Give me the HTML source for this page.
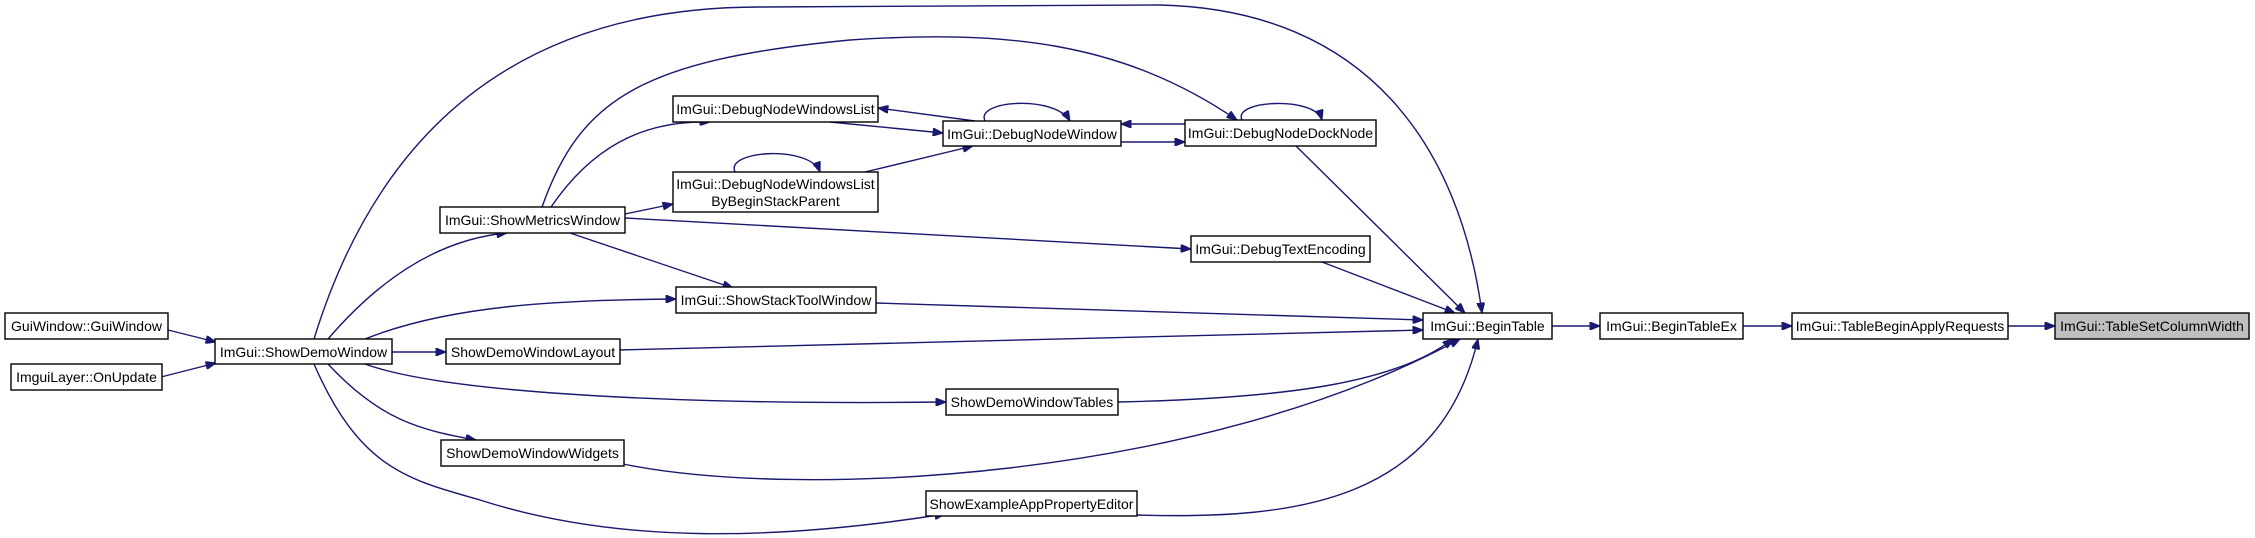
<!DOCTYPE html>
<html><head><meta charset="utf-8"><style>
html,body{margin:0;padding:0;background:#fff;}
svg{display:block;}
text{font-family:"Liberation Sans",sans-serif;font-size:14px;fill:#000;}
.e{fill:none;stroke:#191970;stroke-width:1.4;}
.n{fill:#fff;stroke:#000;stroke-width:1.4;}
</style></head><body>
<svg width="2255" height="538" viewBox="0 0 2255 538" xmlns="http://www.w3.org/2000/svg">
<defs><marker id="a" viewBox="0 0 10 8" refX="10" refY="4" markerWidth="11" markerHeight="8" markerUnits="userSpaceOnUse" orient="auto"><path d="M0,0L10,4L0,8z" fill="#191970" stroke="#191970"/></marker></defs>
<g class="e" marker-end="url(#a)">
<path d="M168,330L216,342"/>
<path d="M161,377L216,363"/>
<path d="M328,339C370,290 430,240 507,233"/>
<path d="M314,339C400,60 600,7 760,7L1160,5C1370,10 1460,150 1482,313"/>
<path d="M365,339C450,305 560,300 676,299"/>
<path d="M391,352L446,352"/>
<path d="M365,364C450,395 700,405 946,402"/>
<path d="M328,364C380,420 420,430 476,440"/>
<path d="M314,364C360,470 410,480 480,500C620,545 780,540 945,514"/>
<path d="M551,207C590,150 640,120 710,122"/>
<path d="M625,214L673,204"/>
<path d="M625,218L1191,249"/>
<path d="M570,233L733,288"/>
<path d="M542,207C580,100 640,60 850,40C1000,30 1120,40 1237,120"/>
<path d="M830,122L943,133"/>
<path d="M975,121L878,108"/>
<path d="M865,172L973,146"/>
<path d="M1121,142L1185,142"/>
<path d="M1185,124L1121,124"/>
<path d="M1296,146L1465,313"/>
<path d="M1322,262L1455,313"/>
<path d="M876,303L1423,320"/>
<path d="M618,350L1423,330"/>
<path d="M1118,402C1300,398 1400,380 1453,339"/>
<path d="M623,464C800,500 1200,480 1460,339"/>
<path d="M1137,515C1300,520 1440,500 1478,339"/>
<path d="M1552,326L1600,326"/>
<path d="M1743,326L1792,326"/>
<path d="M2008,326L2055,326"/>
<path d="M985,121C975,100 1055,95 1070,121"/>
<path d="M735,172C725,150 810,145 820,172"/>
<path d="M1242,120C1232,100 1315,96 1322,120"/>
</g>
<rect class="n" x="5" y="313" width="163" height="26"/><text x="86.5" y="331" text-anchor="middle">GuiWindow::GuiWindow</text>
<rect class="n" x="11" y="364" width="151" height="26"/><text x="86.5" y="382" text-anchor="middle">ImguiLayer::OnUpdate</text>
<rect class="n" x="215" y="339" width="177" height="25"/><text x="303.5" y="357" text-anchor="middle">ImGui::ShowDemoWindow</text>
<rect class="n" x="440" y="207" width="185" height="26"/><text x="532.5" y="225" text-anchor="middle">ImGui::ShowMetricsWindow</text>
<rect class="n" x="673" y="96" width="205" height="26"/><text x="775.5" y="114" text-anchor="middle">ImGui::DebugNodeWindowsList</text>
<rect class="n" x="673" y="172" width="205" height="40"/><text x="775.5" y="189" text-anchor="middle">ImGui::DebugNodeWindowsList</text><text x="775.5" y="206" text-anchor="middle">ByBeginStackParent</text>
<rect class="n" x="943" y="121" width="178" height="25"/><text x="1032" y="139" text-anchor="middle">ImGui::DebugNodeWindow</text>
<rect class="n" x="1185" y="120" width="191" height="26"/><text x="1280.5" y="138" text-anchor="middle">ImGui::DebugNodeDockNode</text>
<rect class="n" x="1191" y="236" width="179" height="26"/><text x="1280.5" y="254" text-anchor="middle">ImGui::DebugTextEncoding</text>
<rect class="n" x="676" y="287" width="200" height="26"/><text x="776" y="305" text-anchor="middle">ImGui::ShowStackToolWindow</text>
<rect class="n" x="446" y="339" width="174" height="25"/><text x="533" y="357" text-anchor="middle">ShowDemoWindowLayout</text>
<rect class="n" x="946" y="389" width="172" height="26"/><text x="1032" y="407" text-anchor="middle">ShowDemoWindowTables</text>
<rect class="n" x="441" y="440" width="183" height="26"/><text x="532.5" y="458" text-anchor="middle">ShowDemoWindowWidgets</text>
<rect class="n" x="926" y="491" width="211" height="25"/><text x="1031.5" y="509" text-anchor="middle">ShowExampleAppPropertyEditor</text>
<rect class="n" x="1423" y="313" width="129" height="26"/><text x="1487.5" y="331" text-anchor="middle">ImGui::BeginTable</text>
<rect class="n" x="1600" y="313" width="143" height="26"/><text x="1671.5" y="331" text-anchor="middle">ImGui::BeginTableEx</text>
<rect class="n" x="1792" y="313" width="216" height="26"/><text x="1900" y="331" text-anchor="middle">ImGui::TableBeginApplyRequests</text>
<rect x="2055" y="313" width="194" height="26" fill="#bfbfbf" stroke="#000" stroke-width="1.4"/><text x="2152" y="331" text-anchor="middle">ImGui::TableSetColumnWidth</text>
</svg>
</body></html>
